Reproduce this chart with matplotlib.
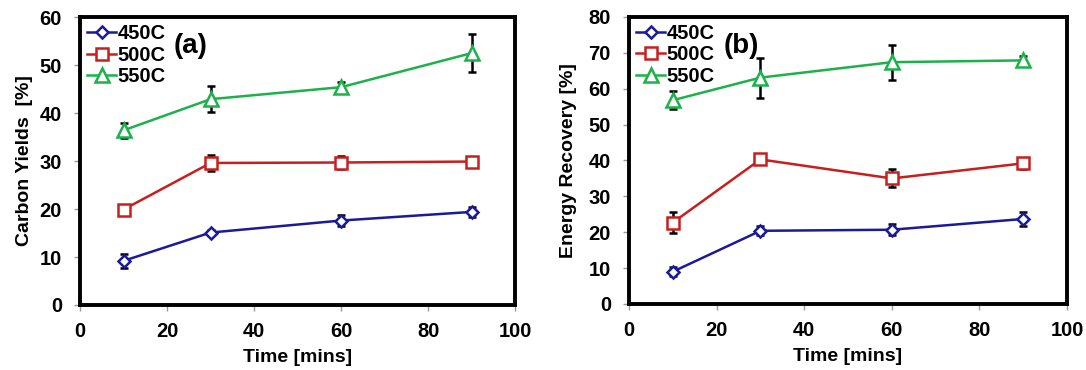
import matplotlib
matplotlib.use("Agg")
import matplotlib.pyplot as plt

plt.rcParams['font.family'] = ['Liberation Sans', 'DejaVu Sans']
plt.rcParams['font.weight'] = 'bold'

time = [10, 30, 60, 90]
series = ["450C", "500C", "550C"]

carbon_450 = [9.2, 15.1, 17.6, 19.4]
carbon_450_err = [1.5, 0.5, 1.1, 1.0]
carbon_500 = [19.9, 29.6, 29.7, 29.9]
carbon_500_err = [0.4, 1.7, 1.4, 1.0]
carbon_550 = [36.4, 42.9, 45.4, 52.5]
carbon_550_err = [1.5, 2.7, 1.0, 3.9]

energy_450 = [9.0, 20.4, 20.7, 23.7]
energy_450_err = [1.2, 1.3, 1.5, 2.0]
energy_500 = [22.7, 40.3, 35.0, 39.2]
energy_500_err = [2.9, 0.8, 2.5, 1.5]
energy_550 = [56.8, 63.1, 67.4, 67.9]
energy_550_err = [2.5, 5.6, 4.9, 1.2]

colors = ["#1A1A9A", "#C81E1E", "#1DB14B"]
markers = ["D", "s", "^"]
msizes = [6.5, 8.5, 9.5]

fig = plt.figure(figsize=(10.86, 3.70), dpi=100)
ax1 = fig.add_axes([0.0737, 0.1757, 0.4006, 0.778])
ax2 = fig.add_axes([0.5792, 0.1784, 0.4033, 0.7757])

def draw(ax, data, ylim, yticks, ylabel, tag, ylabelpad):
    for (vals, errs), name, c, m, ms in zip(data, series, colors, markers, msizes):
        ax.errorbar(time, vals, yerr=errs, fmt='none', ecolor='black',
                    elinewidth=1.8, capsize=3, capthick=1.8, zorder=2)
        ax.plot(time, vals, color=c, lw=1.8, marker=m, ms=ms, mfc='white',
                mec=c, mew=1.8, label=name, zorder=3)
    ax.set_xlim(0, 100)
    ax.set_ylim(*ylim)
    ax.set_xticks(range(0, 101, 20))
    ax.set_yticks(yticks)
    for s in ax.spines.values():
        s.set_linewidth(2.8)
        s.set_color('black')
    ax.tick_params(axis='x', direction='out', length=4, width=1,
                   color='#999999', labelsize=14.5, pad=8)
    ax.tick_params(axis='y', direction='out', length=4, width=1,
                   color='#999999', labelsize=14.5, pad=9)
    for lab in ax.get_xticklabels() + ax.get_yticklabels():
        lab.set_fontweight('bold')
    ax.set_xlabel("Time [mins]", fontsize=14, fontweight='bold', labelpad=6)
    ax.set_ylabel(ylabel, fontsize=14, fontweight='bold', labelpad=ylabelpad)
    leg = ax.legend(loc='upper left', frameon=False, fontsize=14.5,
                    handlelength=1.45, handletextpad=0.05, borderaxespad=0.25,
                    labelspacing=0.12, borderpad=0.1)
    for t in leg.get_texts():
        t.set_fontweight('bold')
    ax.text(0.215, 0.90, tag, transform=ax.transAxes, fontsize=20,
            fontweight='bold', ha='left', va='center')

draw(ax1, [(carbon_450, carbon_450_err), (carbon_500, carbon_500_err),
           (carbon_550, carbon_550_err)], (0, 60), range(0, 61, 10),
     "Carbon Yields  [%]", "(a)", 5)
draw(ax2, [(energy_450, energy_450_err), (energy_500, energy_500_err),
           (energy_550, energy_550_err)], (0, 80), range(0, 81, 10),
     "Energy Recovery [%]", "(b)", 8)

fig.savefig("out.png", dpi=100)
